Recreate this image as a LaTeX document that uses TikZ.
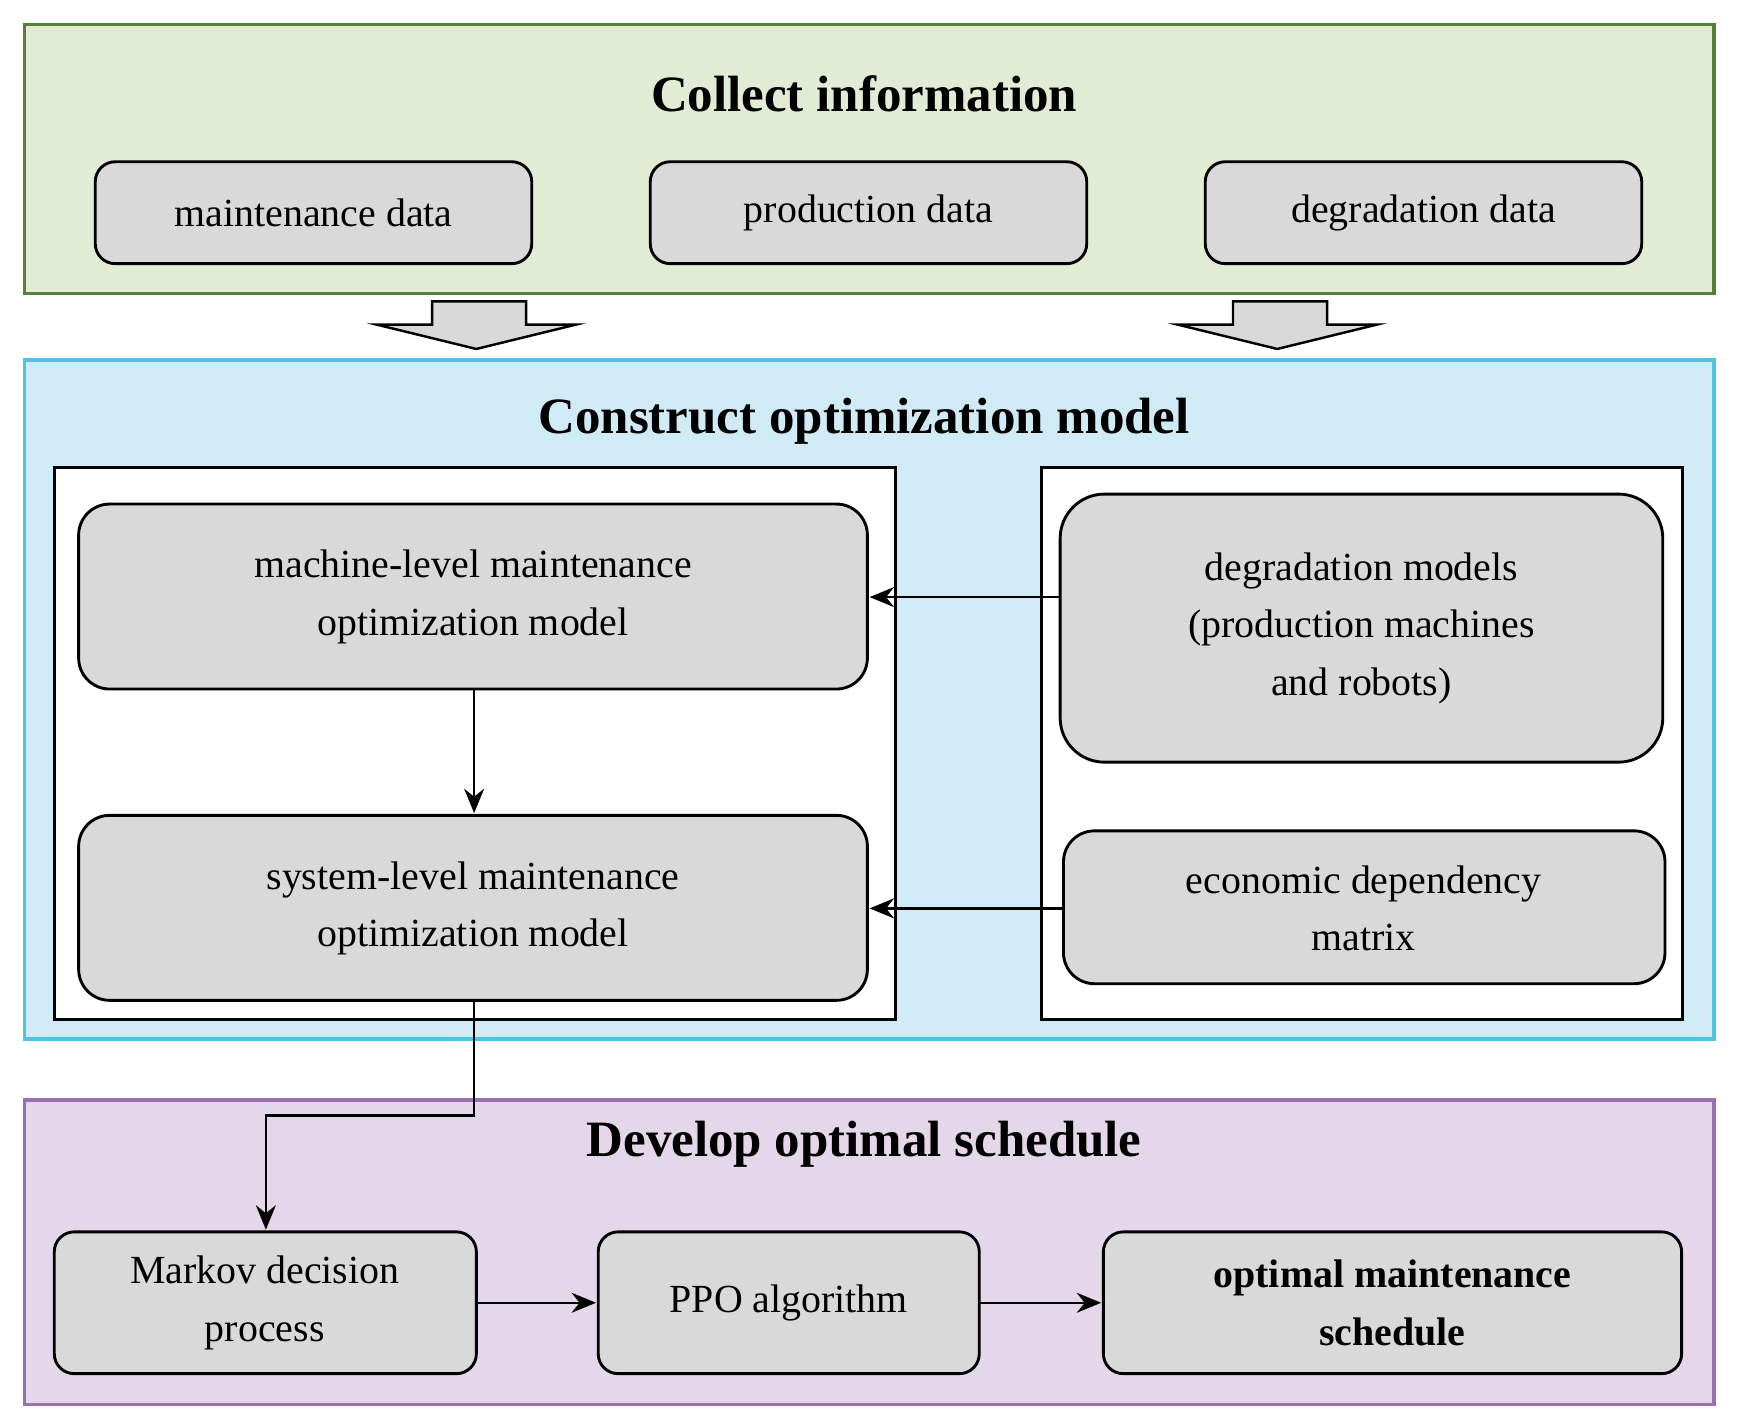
\documentclass[tikz,border=0pt]{standalone}
\usepackage{fontspec}
\setmainfont{Liberation Serif}
\usetikzlibrary{arrows.meta}
\definecolor{gfill}{HTML}{E2EBD4}\definecolor{gline}{HTML}{548235}
\definecolor{bfill}{HTML}{D0EBF5}\definecolor{bline}{HTML}{4EC3E3}
\definecolor{pfill}{HTML}{E4D7E9}\definecolor{pline}{HTML}{9A70B3}
\definecolor{boxg}{HTML}{D9D9D9}
\begin{document}
\begin{tikzpicture}[x=0.5pt,y=-0.5pt,
 panel/.style={line width=1.6pt},
 box/.style={draw,line width=1.3pt,fill=boxg,rounded corners=9pt},
 txt/.style={font=\fontsize{18}{26}\selectfont,align=center},
 ttl/.style={font=\fontsize{23}{28}\selectfont\bfseries},
 arr/.style={-{Stealth[length=11pt,width=9pt]},line width=1.1pt}]
\useasboundingbox (0,0) rectangle (1568,1286);
\draw[panel,draw=gline,fill=gfill] (22,22) rectangle (1547,265);
\draw[panel,draw=bline,fill=bfill] (22,325) rectangle (1547,938);
\draw[panel,draw=pline,fill=pfill] (22,993) rectangle (1547,1268);
\node[ttl] (t1) at (780,85) {Collect information};
\node[ttl] (t2) at (780,380) {Construct optimization model};
\node[ttl] (t3) at (780,1033) {Develop optimal schedule};
\draw[box] (86,146) rectangle (480,238); \node[txt] (d1) at (283,192) {maintenance data};
\draw[box] (587,146) rectangle (981,238); \node[txt] (d2) at (784,192) {production data};
\draw[box] (1088,146) rectangle (1482,238); \node[txt] (d3) at (1285,192) {degradation data};
\foreach \c in {430,1153}{
 \draw[line width=1.1pt,fill=boxg] (\c-40,272) -- (\c+45,272) -- (\c+45,293) -- (\c+90,293) -- (\c,315) -- (\c-90,293) -- (\c-40,293) -- cycle;}
\draw[line width=1.3pt,fill=white] (49,422) rectangle (808,920);
\draw[line width=1.3pt,fill=white] (940,422) rectangle (1519,920);
\draw[box,rounded corners=14pt] (71,455) rectangle (783,622); \node[txt] (m1) at (427,539) {machine-level maintenance\\optimization model};
\draw[box,rounded corners=14pt] (71,736) rectangle (783,903); \node[txt] (m2) at (427,820) {system-level maintenance\\optimization model};
\draw[box,rounded corners=20pt] (957,446) rectangle (1501,688); \node[txt] (g1) at (1229,567) {degradation models\\(production machines\\and robots)};
\draw[box,rounded corners=14pt] (960,750) rectangle (1503,888); \node[txt] (g2) at (1231,820) {economic dependency\\matrix};
\draw[box] (49,1112) rectangle (430,1240); \node[txt] (k1) at (239,1176) {Markov decision\\process};
\draw[box] (540,1112) rectangle (884,1240); \node[txt] (k2) at (712,1176) {PPO algorithm};
\draw[box] (996,1112) rectangle (1518,1240); \node[txt,font=\fontsize{18}{26}\selectfont\bfseries] (k3) at (1257,1176) {optimal maintenance\\schedule};
\coordinate (a1) at (957,539); \coordinate (a1e) at (785,539);
\coordinate (a2) at (960,820); \coordinate (a2e) at (785,820);
\draw[arr] (a1) -- (a1e);
\draw[arr] (a2) -- (a2e);
\draw[arr] (428,622) -- (428,734);
\draw[arr] (428,903) -- (428,1007) -- (240,1007) -- (240,1110);
\draw[arr] (430,1176) -- (538,1176);
\draw[arr] (884,1176) -- (994,1176);
\end{tikzpicture}
\end{document}
